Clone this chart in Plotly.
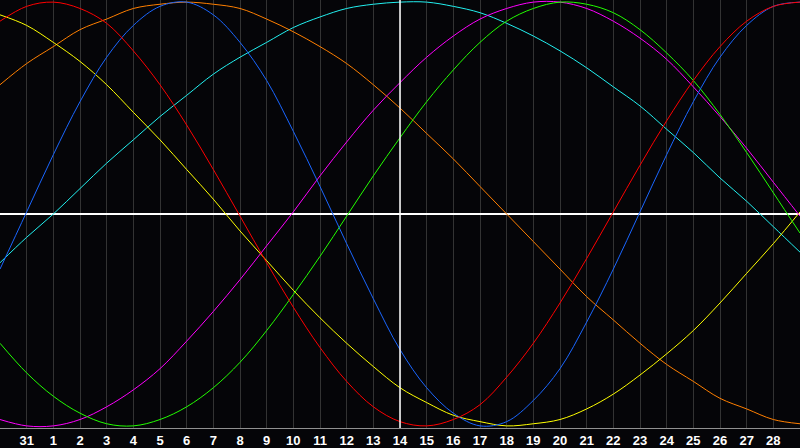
import plotly.graph_objects as go

# Day labels along the x axis (index 1..29), previous month's 31 then 1..28
day_labels = ["31"] + [str(d) for d in range(1, 29)]
today_label = "14"

positions = list(range(0, 31))

# Curve values (percent, -100..100) at each position
red = [91, 98, 100, 97, 90, 77, 61, 42, 21, -1, -23, -44, -63, -79, -91, -98,
       -100, -97, -90, -77, -61, -42, -21, 1, 23, 44, 63, 79, 91, 98, 100]
blue = [-26, 1, 28, 53, 74, 89, 98, 100, 94, 81, 63, 39, 13, -14, -40, -64,
        -82, -94, -100, -98, -88, -73, -51, -26, 1, 28, 53, 74, 89, 98, 100]
green = [-61, -75, -86, -94, -99, -100, -97, -91, -82, -70, -55, -38, -20, -1,
         18, 36, 53, 68, 81, 91, 97, 100, 99, 95, 87, 76, 63, 47, 29, 10, -9]
magenta = [-97, -100, -100, -97, -91, -83, -73, -60, -46, -31, -15, 1, 18, 34,
           49, 62, 74, 84, 92, 97, 100, 100, 97, 91, 83, 73, 60, 46, 31, 15, -1]
yellow = [94, 89, 81, 72, 61, 48, 35, 21, 7, -8, -22, -36, -49, -61, -72, -82,
          -89, -95, -98, -100, -99, -97, -92, -85, -76, -66, -55, -42, -28, -14, 1]
orange = [61, 71, 79, 87, 92, 97, 99, 100, 99, 97, 92, 86, 79, 71, 61, 50, 38,
          26, 13, 0, -13, -26, -39, -50, -61, -71, -79, -87, -92, -97, -99]
cyan = [-23, -11, 0, 12, 24, 35, 46, 56, 66, 74, 81, 88, 93, 97, 99, 100, 100,
        98, 95, 90, 84, 77, 69, 60, 51, 40, 29, 17, 6, -6, -18]

series = [
    ("cyan", cyan, "#22f0f0"),
    ("orange", orange, "#ff7f00"),
    ("yellow", yellow, "#ffff00"),
    ("magenta", magenta, "#ff00ff"),
    ("green", green, "#22ff00"),
    ("blue", blue, "#1a66ff"),
    ("red", red, "#ff0000"),
]

fig = go.Figure()
for name, vals, color in series:
    fig.add_trace(go.Scatter(
        x=positions, y=vals, mode="lines", name=name,
        line=dict(color=color, width=1, shape="spline", smoothing=1.0),
        hoverinfo="skip", showlegend=False,
    ))

tick_positions = list(range(1, len(day_labels) + 1))
today_pos = tick_positions[day_labels.index(today_label)]
fig.add_vline(x=today_pos, line=dict(color="#ffffff", width=1.5), layer="above")

fig.update_layout(
    width=800, height=448,
    margin=dict(l=0, r=0, t=0, b=20, autoexpand=False),
    paper_bgcolor="#050508",
    plot_bgcolor="#050508",
    showlegend=False,
    xaxis=dict(
        range=[0, 30], tickvals=tick_positions, ticktext=day_labels,
        showgrid=True, gridcolor="#333333", gridwidth=1,
        zeroline=False, showline=True, linecolor="#909090", linewidth=1,
        mirror=True, ticks="",
        tickfont=dict(family="Liberation Sans", size=13, color="#ffffff",
                      weight="bold"),
        fixedrange=True,
    ),
    yaxis=dict(
        range=[-101, 101], showgrid=False, showticklabels=False,
        zeroline=True, zerolinecolor="#ffffff", zerolinewidth=1.5,
        showline=True, linecolor="#909090", linewidth=1, mirror=True,
        ticks="", fixedrange=True,
    ),
)

fig.write_html(
    "out.html",
    config={"displayModeBar": False},
    post_script="document.body.style.margin='0';document.body.style.background='#050508';",
)
